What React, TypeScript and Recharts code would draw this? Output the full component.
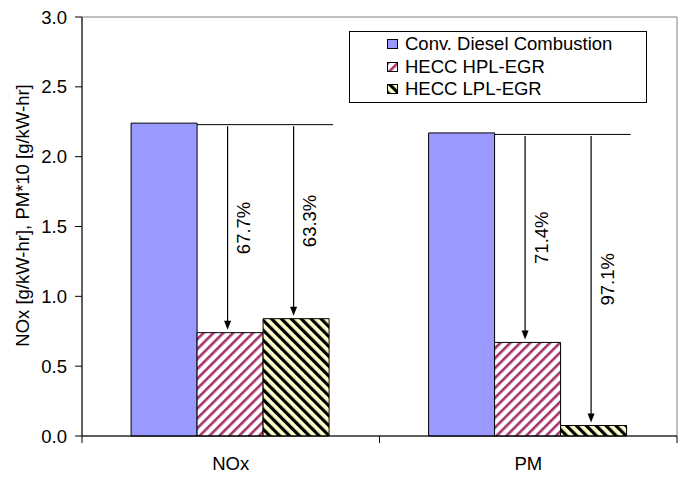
import React from "react";
import {
  BarChart,
  Bar,
  XAxis,
  YAxis,
  Legend,
  LabelList,
  Label,
  ReferenceArea,
} from "recharts";

const categories = ["NOx", "PM"];
const conventional = [2.24, 2.17];
const hplEgr = [0.74, 0.67];
const lplEgr = [0.84, 0.075];
const hplReduction = ["67.7%", "71.4%"];
const lplReduction = ["63.3%", "97.1%"];
const yTicks = [0, 0.5, 1, 1.5, 2, 2.5, 3];
const seriesNames = ["Conv. Diesel Combustion", "HECC HPL-EGR", "HECC LPL-EGR"];
const yLabel = "NOx [g/kW-hr], PM*10 [g/kW-hr]";

const data = categories.map((name, i) => ({
  name,
  conv: conventional[i],
  hpl: hplEgr[i],
  lpl: lplEgr[i],
}));

const W = 694;
const H = 482;
const FONT = "'Liberation Sans', Arial, sans-serif";
const FS = 18.5;
const margin = { top: 17, right: 17, bottom: 16, left: 0 };
const Y_AXIS_W = 82;
const X_AXIS_H = 30;
const PLOT_LEFT = margin.left + Y_AXIS_W;
const PLOT_RIGHT = W - margin.right;
const PLOT_BOTTOM = H - margin.bottom - X_AXIS_H;

const BLUE = "#9999ff";
const PINK = "#a3336a";
const CREAM = "#ffffcc";

// horizontal line from the top of the conventional bar across its group
const RefLine = (props: any) => {
  const vb = props.viewBox ?? props;
  const { x, y, width } = vb;
  return (
    <line x1={x + width} x2={x + 3 * width + 4} y1={y + 1.5} y2={y + 1.5} stroke="#000" strokeWidth={1} />
  );
};

// arrow from the conventional level down to the bar, with the reduction text
const makeArrow = (vals: number[], pcts: string[]) => (props: any) => {
  const vb = props.viewBox ?? props;
  const { x, y, width, height } = vb;
  const i = props.index;
  const base = y + height;
  const k = height / vals[i];
  const start = base - conventional[i] * k + 3;
  const ax = x + width / 2 - 2.5;
  const tip = y - 3;
  const mid = (start + tip) / 2;
  const tx = ax + 16;
  return (
    <g>
      <line x1={ax} x2={ax} y1={start} y2={tip - 8} stroke="#000" strokeWidth={1.2} />
      <path d={`M${ax - 3.5},${tip - 9} L${ax + 3.5},${tip - 9} L${ax},${tip} Z`} fill="#000" />
      <text
        x={tx}
        y={mid}
        transform={`rotate(-90 ${tx} ${mid})`}
        textAnchor="middle"
        dominantBaseline="central"
        fontFamily={FONT}
        fontSize={FS}
        fill="#000"
      >
        {pcts[i]}
      </text>
    </g>
  );
};

const XTick = (props: any) => {
  const { x, index, payload } = props;
  const half = (PLOT_RIGHT - PLOT_LEFT) / categories.length / 2;
  return (
    <g>
      {index === 0 && (
        <line x1={x - half} x2={x - half} y1={PLOT_BOTTOM} y2={PLOT_BOTTOM + 7} stroke="#000" />
      )}
      <line x1={x + half} x2={x + half} y1={PLOT_BOTTOM} y2={PLOT_BOTTOM + 7} stroke="#000" />
      <text
        x={x}
        y={PLOT_BOTTOM + 27}
        textAnchor="middle"
        dominantBaseline="central"
        fontFamily={FONT}
        fontSize={FS}
        fill="#000"
      >
        {payload.value}
      </text>
    </g>
  );
};

const YLabel = (props: any) => {
  const vb = props.viewBox;
  const cx = 22;
  const cy = vb.y + vb.height / 2 - 11;
  return (
    <text
      x={cx}
      y={cy}
      transform={`rotate(-90 ${cx} ${cy})`}
      textAnchor="middle"
      dominantBaseline="central"
      fontFamily={FONT}
      fontSize={FS}
      fill="#000"
    >
      {yLabel}
    </text>
  );
};

const fills = [BLUE, "url(#hatchPink)", "url(#hatchBlack)"];

const LegendBox = () => (
  <div
    style={{
      boxSizing: "border-box",
      width: 298,
      height: 72,
      border: "1px solid #000",
      background: "#fff",
      paddingTop: 1,
      fontFamily: FONT,
      fontSize: FS,
      color: "#000",
    }}
  >
    {seriesNames.map((n, i) => (
      <div key={n} style={{ height: 22.5, lineHeight: "22.5px", display: "flex", alignItems: "center", paddingLeft: 37 }}>
        <svg width={11} height={10} style={{ marginRight: 7 }}>
          <rect x={0.5} y={0.5} width={10} height={9} fill={fills[i]} stroke="#000" strokeWidth={1} />
        </svg>
        <span>{n}</span>
      </div>
    ))}
  </div>
);

export default function App() {
  return (
    <div style={{ position: "absolute", left: 0, top: 0, width: W, height: H, background: "#fff" }}>
      <BarChart
        width={W}
        height={H}
        data={data}
        margin={margin}
        barCategoryGap="16.5%"
        barGap={0}
      >
        <defs>
          <pattern id="hatchPink" width="7" height="7" patternUnits="userSpaceOnUse" patternTransform="rotate(45)">
            <rect width="7" height="7" fill="#fff" />
            <rect width="2.6" height="7" fill={PINK} />
          </pattern>
          <pattern id="hatchBlack" width="7" height="7" patternUnits="userSpaceOnUse" patternTransform="rotate(-45)">
            <rect width="7" height="7" fill={CREAM} />
            <rect width="3.2" height="7" fill="#000" />
          </pattern>
        </defs>
        <ReferenceArea y1={0} y2={3} fill="none" stroke="#808080" strokeWidth={1} />
        <XAxis
          dataKey="name"
          height={X_AXIS_H}
          axisLine={{ stroke: "#000" }}
          tickLine={false}
          tick={<XTick />}
          interval={0}
        />
        <YAxis
          width={Y_AXIS_W}
          domain={[0, 3]}
          ticks={yTicks}
          interval={0}
          tickFormatter={(v: number) => v.toFixed(1)}
          axisLine={{ stroke: "#000" }}
          tickLine={{ stroke: "#000" }}
          tickSize={7}
          tickMargin={8}
          tick={{ fill: "#000", fontSize: FS, fontFamily: FONT }}
        >
          <Label content={<YLabel />} />
        </YAxis>
        <Legend
          layout="vertical"
          verticalAlign="middle"
          align="center"
          content={<LegendBox />}
          wrapperStyle={{ left: 349, top: 31, width: 298, height: 72 }}
        />
        <Bar dataKey="conv" name={seriesNames[0]} fill={BLUE} stroke="#000" strokeWidth={1} isAnimationActive={false}>
          <LabelList dataKey="conv" content={<RefLine />} />
        </Bar>
        <Bar dataKey="hpl" name={seriesNames[1]} fill="url(#hatchPink)" stroke="#000" strokeWidth={1} isAnimationActive={false}>
          <LabelList dataKey="hpl" content={makeArrow(hplEgr, hplReduction)} />
        </Bar>
        <Bar dataKey="lpl" name={seriesNames[2]} fill="url(#hatchBlack)" stroke="#000" strokeWidth={1} isAnimationActive={false}>
          <LabelList dataKey="lpl" content={makeArrow(lplEgr, lplReduction)} />
        </Bar>
      </BarChart>
    </div>
  );
}
